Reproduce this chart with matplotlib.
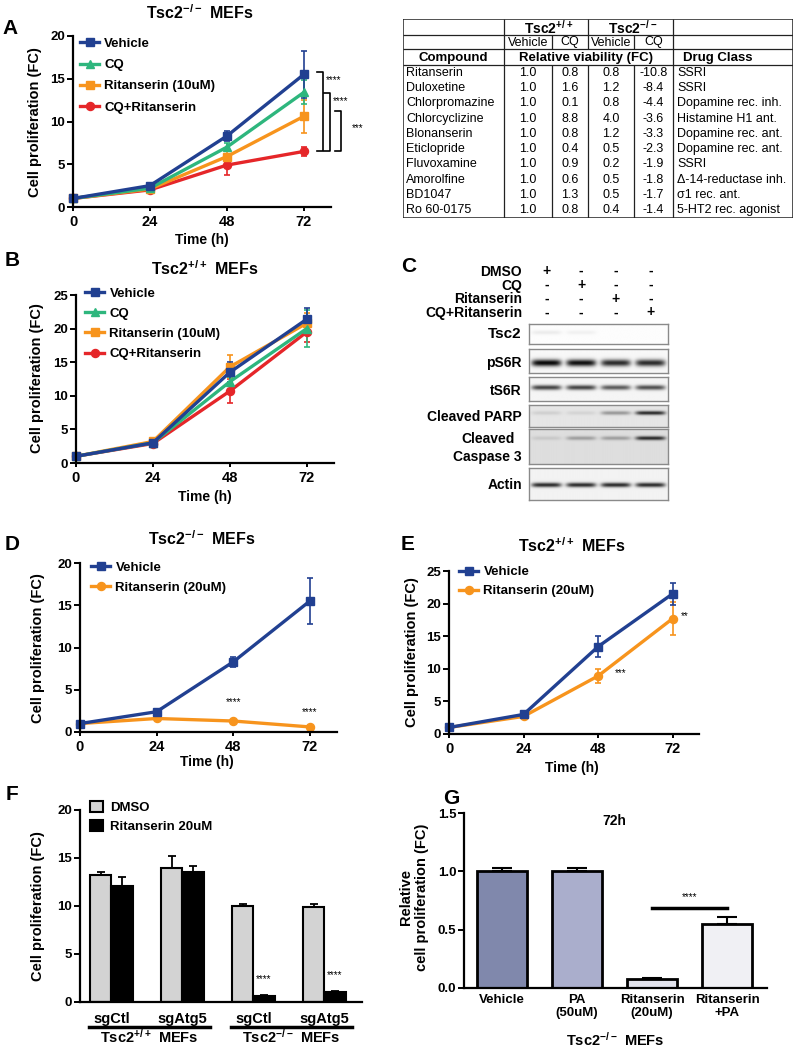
import numpy as np
import matplotlib
matplotlib.use('Agg')
import matplotlib.pyplot as plt
from matplotlib.lines import Line2D
from matplotlib.patches import Patch, Rectangle

plt.rcParams['font.family'] = ['Liberation Sans', 'DejaVu Sans']
plt.rcParams['font.weight'] = 'bold'
plt.rcParams['mathtext.fontset'] = 'custom'
plt.rcParams['mathtext.rm'] = 'Liberation Sans'
plt.rcParams['mathtext.bf'] = 'Liberation Sans:bold'

KO = r'$\mathbf{Tsc2^{-/-}\ MEFs}$'
WT = r'$\mathbf{Tsc2^{+/+}\ MEFs}$'

# ---------------- data ----------------
hours = [0, 24, 48, 72]

# A: Tsc2-/- MEFs
a_labels = ['Vehicle', 'CQ', 'Ritanserin (10uM)', 'CQ+Ritanserin']
a_vehicle = [1.0, 2.5, 8.3, 15.5]
a_vehicle_err = [0.1, 0.2, 0.6, 2.7]
a_cq = [1.0, 2.2, 7.0, 13.4]
a_cq_err = [0.1, 0.2, 0.5, 1.4]
a_rit = [1.0, 2.1, 5.9, 10.6]
a_rit_err = [0.1, 0.2, 0.7, 1.9]
a_combo = [1.0, 2.0, 4.9, 6.5]
a_combo_err = [0.1, 0.2, 1.1, 0.5]
a_sig = ['****', '****', '***']

# B: Tsc2+/+ MEFs
b_vehicle = [1.0, 3.0, 13.5, 21.4]
b_vehicle_err = [0.1, 0.3, 1.5, 1.7]
b_cq = [1.0, 3.0, 12.1, 20.0]
b_cq_err = [0.1, 0.3, 0.7, 2.7]
b_rit = [1.0, 3.2, 14.3, 20.8]
b_rit_err = [0.1, 0.3, 1.7, 1.5]
b_combo = [1.0, 2.9, 10.7, 19.5]
b_combo_err = [0.1, 0.3, 1.8, 1.5]

# table
tbl_compounds = ['Ritanserin', 'Duloxetine', 'Chlorpromazine', 'Chlorcyclizine',
                 'Blonanserin', 'Eticlopride', 'Fluvoxamine', 'Amorolfine',
                 'BD1047', 'Ro 60-0175']
tbl_wt_vehicle = ['1.0'] * 10
tbl_wt_cq = ['0.8', '1.6', '0.1', '8.8', '0.8', '0.4', '0.9', '0.6', '1.3', '0.8']
tbl_ko_vehicle = ['0.8', '1.2', '0.8', '4.0', '1.2', '0.5', '0.2', '0.5', '0.5', '0.4']
tbl_ko_cq = ['-10.8', '-8.4', '-4.4', '-3.6', '-3.3', '-2.3', '-1.9', '-1.8', '-1.7', '-1.4']
tbl_class = ['SSRI', 'SSRI', 'Dopamine rec. inh.', 'Histamine H1 ant.',
             'Dopamine rec. ant.', 'Dopamine rec. ant.', 'SSRI',
             '\u0394-14-reductase inh.', '\u03c31 rec. ant.', '5-HT2 rec. agonist']

# C: western blot
c_treatments = ['DMSO', 'CQ', 'Ritanserin', 'CQ+Ritanserin']
c_design = [[1, 0, 0, 0], [0, 1, 0, 0], [0, 0, 1, 0], [0, 0, 0, 1]]
c_proteins = ['Tsc2', 'pS6R', 'tS6R', 'Cleaved PARP', 'Cleaved\nCaspase 3', 'Actin']
c_bands = [[0.07, 0.05, 0.0, 0.0],
           [1.0, 0.97, 0.85, 0.85],
           [0.75, 0.75, 0.65, 0.7],
           [0.1, 0.08, 0.35, 0.85],
           [0.1, 0.3, 0.3, 0.85],
           [0.85, 0.85, 0.85, 0.85]]

# D: Tsc2-/- ritanserin 20uM
d_labels = ['Vehicle', 'Ritanserin (20uM)']
d_vehicle = [1.0, 2.4, 8.3, 15.5]
d_vehicle_err = [0.1, 0.2, 0.6, 2.7]
d_rit = [1.0, 1.6, 1.3, 0.6]
d_rit_err = [0.1, 0.15, 0.15, 0.1]

# E: Tsc2+/+ ritanserin 20uM
e_vehicle = [1.0, 3.0, 13.4, 21.5]
e_vehicle_err = [0.1, 0.3, 1.6, 1.7]
e_rit = [1.0, 2.7, 8.9, 17.7]
e_rit_err = [0.1, 0.2, 1.1, 2.5]

# F: sgRNA bars
f_groups = ['sgCtl', 'sgAtg5', 'sgCtl', 'sgAtg5']
f_dmso = [13.2, 14.0, 10.0, 9.9]
f_dmso_err = [0.3, 1.2, 0.25, 0.3]
f_rit = [12.1, 13.5, 0.6, 1.0]
f_rit_err = [0.9, 0.7, 0.1, 0.1]

# G: palmitic acid rescue
g_labels = ['Vehicle', 'PA\n(50uM)', 'Ritanserin\n(20uM)', 'Ritanserin\n+PA']
g_values = [1.0, 1.0, 0.08, 0.55]
g_err = [0.03, 0.03, 0.01, 0.06]
g_colors = ['#8088AC', '#AAAECC', '#E1E2EC', '#F0F0F4']

NAVY, GREEN, ORANGE, RED = '#214091', '#2EB67D', '#F7941D', '#E52629'

# ---------------- figure ----------------
W, H = 796, 1050
fig = plt.figure(figsize=(W / 100, H / 100), dpi=100)


def px_axes(l, t, r, b):
    return fig.add_axes([l / W, 1 - b / H, (r - l) / W, (b - t) / H])


def ftext(x, y, s, **kw):
    kw.setdefault('ha', 'center')
    kw.setdefault('va', 'center')
    fig.text(x / W, 1 - y / H, s, **kw)


def prism(ax, xticks=True):
    for s in ['top', 'right']:
        ax.spines[s].set_visible(False)
    for s in ['left', 'bottom']:
        ax.spines[s].set_linewidth(1.6)
    ax.tick_params(axis='y', width=1.4, length=4, labelsize=9.5, pad=1.5)
    ax.tick_params(axis='x', width=1.4, length=3 if xticks else 0,
                   labelsize=10.5, pad=3)


def line_panel(ax, series, errs, colors, markers, ylim, yticks):
    # vehicle first in the lists, drawn last so it sits on top
    for vals, err, c, m in list(zip(series, errs, colors, markers))[::-1]:
        ax.errorbar(hours, vals, yerr=err, color=c, marker=m,
                    ms=6.3 if m == '^' else 5.8, lw=2.4, elinewidth=1.2,
                    capsize=2.5, capthick=1.2, clip_on=False)
    ax.set_xlim(0, 80.5)
    ax.set_ylim(*ylim)
    ax.set_xticks(hours)
    ax.set_yticks(yticks)
    prism(ax)


def line_legend(ax, labels, colors, markers, x, y, spacing):
    handles = [Line2D([], [], color=c, marker=m, lw=2.4, ms=5.8)
               for c, m in zip(colors, markers)]
    ax.legend(handles, labels, loc='upper left', bbox_to_anchor=(x, y),
              frameon=False, fontsize=9.5, handlelength=1.45,
              handletextpad=0.4, labelspacing=spacing, borderpad=0,
              borderaxespad=0)


# ---- A ----
axA = px_axes(73, 36, 331, 207)
a_colors = [NAVY, GREEN, ORANGE, RED]
a_markers = ['s', '^', 's', 'o']
line_panel(axA, [a_vehicle, a_cq, a_rit, a_combo],
           [a_vehicle_err, a_cq_err, a_rit_err, a_combo_err],
           a_colors, a_markers, (0, 20), [0, 5, 10, 15, 20])
line_legend(axA, a_labels, a_colors, a_markers, 0.027, 0.99, 0.68)
# significance brackets at 72 h against CQ+Ritanserin
for i, (top, bx) in enumerate(zip([a_vehicle[3] + 0.25, a_cq[3] - 0.1, a_rit[3] + 0.6],
                                  [77.9, 80.2, 83.6])):
    bot = a_combo[3]
    axA.plot([bx - 1.8, bx, bx, bx - 1.8], [top, top, bot, bot], color='black',
             lw=1.2, clip_on=False)
    axA.text(bx + 0.9 + (2.5 if i == 2 else 0), top - 0.95 + (-1.0 if i == 2 else 0),
             a_sig[i], fontsize=7, fontweight='normal', ha='left', va='center',
             clip_on=False)
ftext(10, 29, 'A', fontsize=15)
ftext(200, 13, KO, fontsize=11.5)
ftext(35, 122, 'Cell proliferation (FC)', fontsize=10.5, rotation=90)
ftext(202, 240, 'Time (h)', fontsize=10)

# ---- table ----
axT = px_axes(403, 19, 793, 218)
axT.set_xlim(0, 390)
axT.set_ylim(199, 0)
axT.axis('off')
col_edges = [0, 101, 149, 185, 231, 270, 390]
row_h = (199 - 46) / len(tbl_compounds)
axT.add_patch(Rectangle((0, 0), 390, 199, fill=False, lw=1.1, ec='#222222'))
axT.hlines([16, 30, 46], 0, 390, color='#222222', lw=0.9)
axT.vlines([101, 185, 270], 0, 16, color='#222222', lw=0.9)
axT.vlines(col_edges[1:6], 16, 30, color='#222222', lw=0.9)
axT.vlines([101, 270], 30, 46, color='#222222', lw=0.9)
axT.vlines(col_edges[1:6], 46, 199, color='#222222', lw=0.9)
axT.text(146, 8.5, r'$\mathbf{Tsc2^{+/+}}$', ha='center', va='center', fontsize=10)
axT.text(230, 8.5, r'$\mathbf{Tsc2^{-/-}}$', ha='center', va='center', fontsize=10)
for j, h in enumerate(['Vehicle', 'CQ', 'Vehicle', 'CQ']):
    cx = (col_edges[j + 1] + col_edges[j + 2]) / 2
    axT.text(cx, 23.5, h, ha='center', va='center', fontsize=9, fontweight='normal')
axT.text(50, 38.5, 'Compound', ha='center', va='center', fontsize=9.5)
axT.text(183, 38.5, 'Relative viability (FC)', ha='center', va='center', fontsize=9.5)
axT.text(280, 38.5, 'Drug Class', ha='left', va='center', fontsize=9.5)
for i in range(len(tbl_compounds)):
    cy = 46 + row_h * (i + 0.5)
    axT.text(3, cy, tbl_compounds[i], ha='left', va='center', fontsize=9,
             fontweight='normal')
    for j, col in enumerate([tbl_wt_vehicle, tbl_wt_cq, tbl_ko_vehicle, tbl_ko_cq]):
        cx = (col_edges[j + 1] + col_edges[j + 2]) / 2
        axT.text(cx, cy, col[i], ha='center', va='center', fontsize=9,
                 fontweight='normal')
    axT.text(274, cy, tbl_class[i], ha='left', va='center', fontsize=9,
             fontweight='normal')

# ---- B ----
axB = px_axes(76, 295, 334, 463)
line_panel(axB, [b_vehicle, b_cq, b_rit, b_combo],
           [b_vehicle_err, b_cq_err, b_rit_err, b_combo_err],
           a_colors, a_markers, (0, 25), [0, 5, 10, 15, 20, 25])
line_legend(axB, a_labels, a_colors, a_markers, 0.035, 1.045, 0.6)
ftext(12, 260, 'B', fontsize=15)
ftext(205, 269, WT, fontsize=11.5)
ftext(37, 378, 'Cell proliferation (FC)', fontsize=10.5, rotation=90)
ftext(205, 497, 'Time (h)', fontsize=10)

# ---- C ----
ftext(409, 267, 'C', fontsize=15)
axM = px_axes(529, 265, 668, 320)
axM.set_xlim(-0.5, 3.5)
axM.set_ylim(4, 0)
axM.axis('off')
for i, name in enumerate(c_treatments):
    axM.text(-0.7, i + 0.5, name, ha='right', va='center', fontsize=10)
    for j in range(4):
        axM.text(j, i + 0.45, '+' if c_design[i][j] else '-', ha='center',
                 va='center', fontsize=10)

box_px = [(324, 344), (349, 373), (377, 401), (405, 427), (429, 464), (468, 500)]
band_pos = [0.45, 0.58, 0.46, 0.36, 0.26, 0.53]
band_bg = [0.99, 0.97, 0.96, 0.9, 0.87, 0.95]
band_sig = [2.0, 3.5, 2.4, 2.0, 2.0, 2.3]
label_y = [334, 363, 391, 417, 448, 485]
for k, (name, levels) in enumerate(zip(c_proteins, c_bands)):
    t, b = box_px[k]
    axb = px_axes(529, t, 668, b)
    hpx = b - t
    xs = np.linspace(-0.5, 3.5, 300)
    ys = np.linspace(0, hpx, max(int(hpx * 3), 10))
    X, Y = np.meshgrid(xs, ys)
    img = np.full(X.shape, band_bg[k])
    for lane, lv in enumerate(levels):
        prof = np.exp(-((X - lane) / 0.43) ** 6) * \
            np.exp(-((Y - band_pos[k] * hpx) / band_sig[k]) ** 2)
        img -= lv * 0.97 * band_bg[k] * prof
    axb.imshow(np.clip(img, 0, 1), cmap='gray', vmin=0, vmax=1, aspect='auto',
               extent=(-0.5, 3.5, hpx, 0), interpolation='bilinear')
    axb.set_xticks([])
    axb.set_yticks([])
    for s in axb.spines.values():
        s.set_color('#8a8a8a')
        s.set_linewidth(1.0)
    ftext(522, label_y[k], name, ha='right', fontsize=11 if k == 0 else 10,
          multialignment='center', linespacing=1.3)

# ---- D ----
axD = px_axes(80, 563, 337, 732)
d_colors = [NAVY, ORANGE]
d_markers = ['s', 'o']
line_panel(axD, [d_vehicle, d_rit], [d_vehicle_err, d_rit_err], d_colors,
           d_markers, (0, 20), [0, 5, 10, 15, 20])
line_legend(axD, d_labels, d_colors, d_markers, 0.043, 1.01, 0.62)
for x, y in [(48, 3.5), (72, 2.4)]:
    axD.text(x, y, '****', fontsize=7, fontweight='normal', ha='center', va='center')
ftext(12, 544, 'D', fontsize=15)
ftext(202, 539, KO, fontsize=11.5)
ftext(38, 648, 'Cell proliferation (FC)', fontsize=10.5, rotation=90)
ftext(207, 762, 'Time (h)', fontsize=10)

# ---- E ----
axE = px_axes(449, 571, 699, 734)
line_panel(axE, [e_vehicle, e_rit], [e_vehicle_err, e_rit_err], d_colors,
           d_markers, (0, 25), [0, 5, 10, 15, 20, 25])
line_legend(axE, d_labels, d_colors, d_markers, 0.04, 1.03, 0.5)
axE.text(53.5, 9.4, '***', fontsize=7, fontweight='normal', ha='left', va='center')
axE.text(74.8, 18.1, '**', fontsize=7, fontweight='normal', ha='left', va='center')
ftext(408, 544, 'E', fontsize=15)
ftext(572, 546, WT, fontsize=11.5)
ftext(412, 652, 'Cell proliferation (FC)', fontsize=10.5, rotation=90)
ftext(572, 768, 'Time (h)', fontsize=10)

# ---- F ----
axF = px_axes(80, 810, 362, 1002)
gx = np.arange(len(f_groups))
bw = 0.3
axF.bar(gx - bw / 2, f_dmso, bw, color='#D3D3D3', edgecolor='black', lw=1.5,
        yerr=[np.zeros(4), f_dmso_err], capsize=3,
        error_kw=dict(elinewidth=1.3, capthick=1.3), label='DMSO')
axF.bar(gx + bw / 2, f_rit, bw, color='black', edgecolor='black', lw=1.5,
        yerr=[np.zeros(4), f_rit_err], capsize=3,
        error_kw=dict(elinewidth=1.3, capthick=1.3), label='Ritanserin 20uM')
axF.set_xlim(-0.44, 3.53)
axF.set_ylim(0, 20)
axF.set_yticks([0, 5, 10, 15, 20])
axF.set_xticks(gx)
axF.set_xticklabels(f_groups)
prism(axF, xticks=False)
axF.tick_params(axis='x', pad=7, labelsize=10.5)
for g in [2, 3]:
    axF.text(g + bw / 2, f_rit[g] + 1.8, '****', fontsize=7, fontweight='normal',
             ha='center', va='center')
axF.legend(loc='upper left', bbox_to_anchor=(0.035, 1.045), frameon=False,
           fontsize=9.5, handlelength=1.0, handleheight=0.9, handletextpad=0.5,
           labelspacing=0.45, borderpad=0, borderaxespad=0)
tr = axF.get_xaxis_transform()
for (g0, g1), lab in zip([(0, 1), (2, 3)], [WT, KO]):
    axF.plot([g0 - 0.31, g1 + 0.39], [-0.13, -0.13], color='black', lw=2.5,
             transform=tr, clip_on=False)
    axF.text((g0 + g1) / 2 + 0.04, -0.18, lab, transform=tr, ha='center',
             va='center', fontsize=10.5)
ftext(12, 794, 'F', fontsize=15)
ftext(38, 906, 'Cell proliferation (FC)', fontsize=10.5, rotation=90)

# ---- G ----
axG = px_axes(464, 813, 767, 988)
gpos = np.arange(len(g_values))
axG.bar(gpos, g_values, 0.667, color=g_colors, edgecolor='black', lw=2,
        yerr=[np.zeros(4), g_err], capsize=7,
        error_kw=dict(elinewidth=1.5, capthick=1.5))
axG.set_xlim(-0.507, 3.53)
axG.set_ylim(0, 1.5)
axG.set_yticks([0, 0.5, 1.0, 1.5])
axG.set_yticklabels(['0.0', '0.5', '1.0', '1.5'])
axG.set_xticks(gpos)
axG.set_xticklabels(g_labels)
prism(axG, xticks=False)
axG.tick_params(axis='x', pad=4, labelsize=9.5)
axG.plot([2, 3], [0.69, 0.69], color='black', lw=2.5)
axG.text(2.5, 0.78, '****', fontsize=7, fontweight='normal', ha='center', va='center')
axG.text(1.5, 1.43, '72h', fontsize=10, ha='center', va='center')
ftext(451, 799, 'G', fontsize=15)
ftext(414, 897, 'Relative\ncell proliferation (FC)', fontsize=10.5, rotation=90,
      linespacing=1.1)
ftext(615, 1040, KO, fontsize=10.5)

fig.savefig('out.png', dpi=100)
